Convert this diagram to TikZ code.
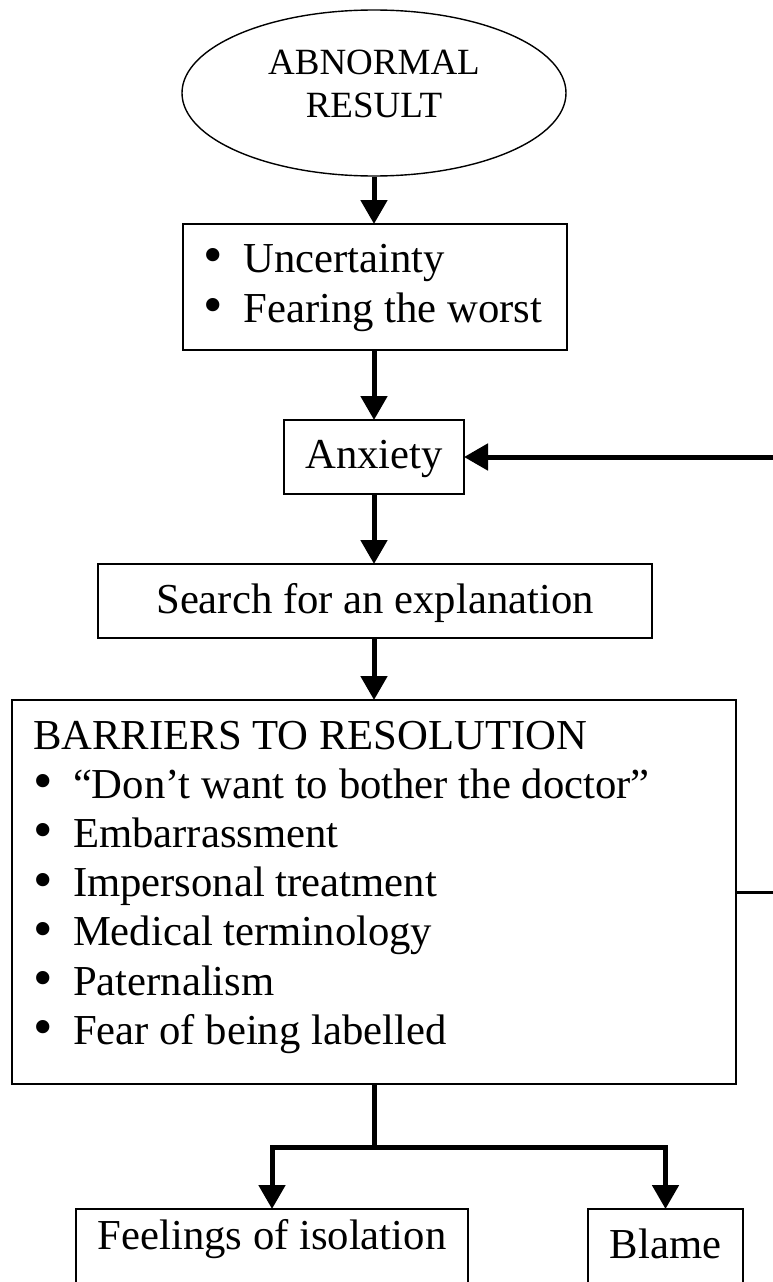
\documentclass[tikz,border=0pt]{standalone}
\usepackage{graphicx}
\usepackage{fontspec}
\setmainfont{Liberation Serif}
\usetikzlibrary{arrows.meta,shapes.geometric}
\newcommand{\bitem}[1]{\makebox[40pt][l]{\raisebox{-1.5pt}{\scalebox{1.3}{•}}}#1}
\begin{document}
\begin{tikzpicture}[x=1pt,y=-1pt,
  box/.style={draw, line width=1.4pt, rectangle, inner ysep=0pt, outer sep=0pt,
    anchor=north west, font=\fontsize{42.7pt}{49.2pt}\selectfont},
  flow/.style={line width=5pt, -{Triangle[length=24pt,width=26pt]}},
  plainline/.style={line width=5pt},
  thinline/.style={line width=3pt}]
\useasboundingbox (0,0) rectangle (773,1282);
\clip (0,0) rectangle (773,1282);

\node[draw, ellipse, line width=1.4pt, minimum width=384pt, minimum height=166pt,
  inner sep=0pt, text height=30pt, text depth=68pt,
  font=\fontsize{37pt}{43pt}\selectfont] (ell) at (374,93)
  {\begin{tabular}[t]{@{}c@{}}ABNORMAL\\RESULT\end{tabular}};

\node[box, minimum width=384pt, inner xsep=20.5pt, text height=48pt, text depth=78pt,
  font=\fontsize{42.7pt}{50pt}\selectfont] (unc) at (183,224)
  {\makebox[343pt][l]{\begin{tabular}[t]{@{}l@{}}\bitem{Uncertainty}\\\bitem{Fearing the worst}\end{tabular}}};

\node[box, minimum width=180pt, text height=48pt, text depth=26pt] (anx) at (284,420) {Anxiety};

\node[box, minimum width=554pt, text height=49pt, text depth=25pt] (srch) at (98,564) {Search for an explanation};

\node[box, minimum width=724pt, inner xsep=21pt, text height=49pt, text depth=335pt] (bar) at (12,700)
  {\makebox[682pt][l]{\begin{tabular}[t]{@{}l@{}}BARRIERS TO RESOLUTION\\
  \bitem{“Don’t want to bother the doctor”}\\
  \bitem{Embarrassment}\\
  \bitem{Impersonal treatment}\\
  \bitem{Medical terminology}\\
  \bitem{Paternalism}\\
  \bitem{Fear of being labelled}\end{tabular}}};

\node[box, minimum width=392pt, text height=40pt, text depth=50pt] (feel) at (76,1209) {Feelings of isolation};
\node[box, minimum width=155pt, text height=49pt, text depth=41pt] (blame) at (588,1209) {Blame};

\coordinate (junc) at (374,1147);
\coordinate (fbA) at (773,457);
\coordinate (fbB) at (773,892);

\draw[flow] (ell.south) -- (ell.south |- unc.north);
\draw[flow] (unc.south -| anx.north) -- (anx.north);
\draw[flow] (anx.south) -- (anx.south |- srch.north);
\draw[flow] (srch.south -| bar.north) -- (bar.north);
\draw[plainline] (bar.south) -- (junc);
\draw[flow] (junc) -| (feel.north);
\draw[flow] (junc) -| (blame.north);
\draw[flow] (fbA) -- (anx.east);
\draw[thinline] (bar.east) -- (fbB);
\end{tikzpicture}
\end{document}
